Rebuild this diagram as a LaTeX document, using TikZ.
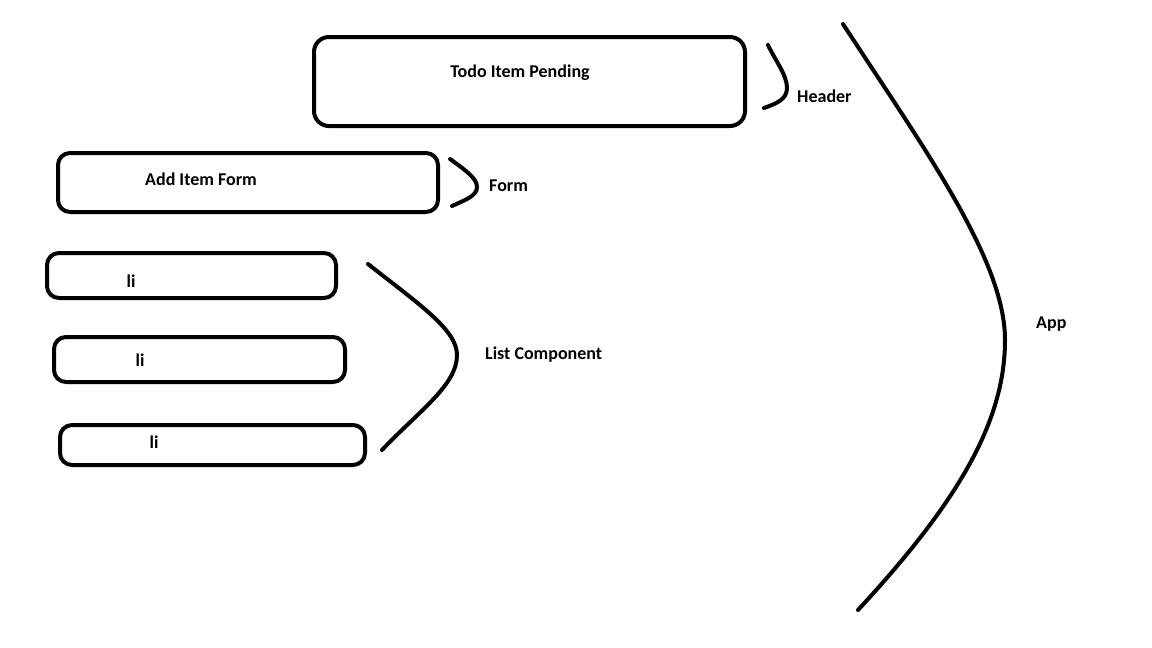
\documentclass[tikz,border=0pt]{standalone}
\usepackage{fontspec}
\setmainfont{Carlito}
\begin{document}
\begin{tikzpicture}[x=1pt,y=-1pt,
  box/.style={draw,line width=4pt,rounded corners=12pt,inner sep=0pt},
  lbl/.style={font=\bfseries\fontsize{18}{20}\selectfont,inner sep=0pt},
  brace/.style={draw,line width=4pt,line cap=round}]
\useasboundingbox[fill=white] (0,0) rectangle (1152,648);
% boxes
\node[box,minimum width=431pt,minimum height=89pt,rounded corners=15pt] (hbox) at (529.5,81.5) {};
\node[box,minimum width=380pt,minimum height=59pt] (fbox) at (248,182.5) {};
\node[box,minimum width=289pt,minimum height=45pt] (li1) at (191.5,275.5) {};
\node[box,minimum width=291pt,minimum height=45pt] (li2) at (199.5,359.5) {};
\node[box,minimum width=305pt,minimum height=40pt] (li3) at (212.5,445) {};
% texts
\node[lbl] (thead) at (520,73) {Todo Item Pending};
\node[lbl] (tform) at (201,179) {Add Item Form};
\node[lbl] (tli1) at (131,281) {li};
\node[lbl] (tli2) at (140,360) {li};
\node[lbl] (tli3) at (154,442) {li};
\node[lbl,anchor=west] (lheader) at (797,96) {Header};
\node[lbl,anchor=west] (lform) at (489,186) {Form};
\node[lbl,anchor=west] (llist) at (485,355) {List Component};
\node[lbl,anchor=west] (lapp) at (1036,324) {App};
% braces
\coordinate (h1) at (768,45); \coordinate (h2) at (764,108);
\coordinate (f1) at (450,159); \coordinate (f2) at (452,206);
\coordinate (l1) at (368,264); \coordinate (l2) at (382,450);
\coordinate (a1) at (843,24); \coordinate (a2) at (858,610);
\draw[brace] (h1) .. controls (775,60) and (787,75) .. (787,88) .. controls (787,100) and (775,104) .. (h2);
\draw[brace] (f1) .. controls (465,170) and (477,178) .. (477,187) .. controls (477,196) and (465,200) .. (f2);
\draw[brace] (l1) .. controls (420,305) and (457,330) .. (457,355) .. controls (457,385) and (420,410) .. (l2);
\draw[brace] (a1) .. controls (925,150) and (1005,260) .. (1005,340) .. controls (1005,420) and (960,500) .. (a2);
\end{tikzpicture}
\end{document}
